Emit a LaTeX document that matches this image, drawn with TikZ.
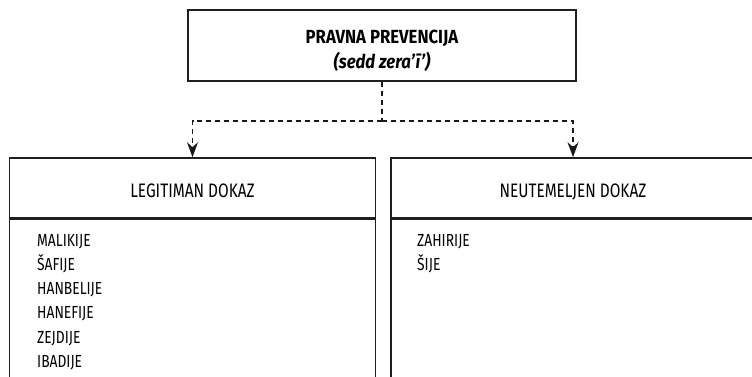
\documentclass[tikz,border=0pt]{standalone}
\usepackage{fontspec}
\setmainfont[FakeStretch=0.79]{Fira Sans}
\newfontfamily\titlefont[FakeStretch=0.88]{Fira Sans}
\usetikzlibrary{arrows.meta}

\begin{document}
\begin{tikzpicture}[x=1pt, y=-1pt,
                    box/.style={draw=black!88, line width=1.6pt, rectangle, inner sep=0pt},
                    head/.style={box, minimum height=60pt, text height=18pt, text depth=0pt, font=\fontsize{19.5}{22}\selectfont},
                    items/.style={align=left, inner sep=0pt, anchor=north west, font=\fontsize{17.5}{24.2}\selectfont},
                    link/.style={draw=black!90, line width=1.3pt, dash pattern=on 5pt off 4pt},
                    linkarrow/.style={link, -{Stealth[length=15pt, width=11pt, inset=5pt]}}]

            \clip (0,0) rectangle (752,377);

            \node[box, minimum width=388pt, minimum height=71pt] (prev) at (382,45.5) {};
            \node[align=center, inner sep=0pt, font=\titlefont\fontsize{19}{25}\selectfont\bfseries] (prevtitle) at (382,50.5)
                  {PRAVNA PREVENCIJA\\{\itshape (sedd zera’ī’)}};

            \node[head, minimum width=366pt] (legit) at (192.5,188) {LEGITIMAN DOKAZ};
            \node[head, minimum width=364pt] (neut) at (573,188) {NEUTEMELJEN DOKAZ};

            \node[box, minimum width=366pt, minimum height=200pt, anchor=north] (legitbody) at (legit.south) {};
            \node[box, minimum width=364pt, minimum height=200pt, anchor=north] (neutbody) at (neut.south) {};

            \node[items] (legitlist) at (37,234) {MALIKIJE\\ŠAFIJE\\HANBELIJE\\HANEFIJE\\ZEJDIJE\\IBADIJE};
            \node[items] (neutlist) at (417,234) {ZAHIRIJE\\ŠIJE};

            \coordinate (split) at (382,121);

            \draw[link] (prev) -- (split);
            \draw[linkarrow] (split) -| (legit);
            \draw[linkarrow] (split) -| (neut);
\end{tikzpicture}
\end{document}
